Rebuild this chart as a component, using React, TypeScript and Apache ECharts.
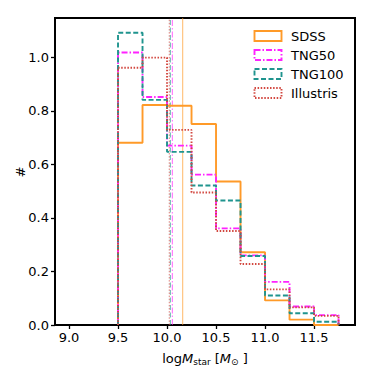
import React, { useEffect, useRef } from "react";
import * as echarts from "echarts";

const binEdges = [9.5, 9.75, 10.0, 10.25, 10.5, 10.75, 11.0, 11.25, 11.5, 11.75];
const sdss = [0.681, 0.822, 0.819, 0.751, 0.536, 0.272, 0.092, 0.02, 0.0];
const tng50 = [1.018, 0.852, 0.67, 0.562, 0.361, 0.26, 0.161, 0.069, 0.037];
const tng100 = [1.092, 0.841, 0.647, 0.521, 0.465, 0.258, 0.11, 0.044, 0.012];
const illustris = [0.961, 0.999, 0.729, 0.495, 0.351, 0.228, 0.133, 0.066, 0.034];
const medians = [10.16, 10.054, 10.034, 10.023];
const names = ["SDSS", "TNG50", "TNG100", "Illustris"];
const xTicks = [9.0, 9.5, 10.0, 10.5, 11.0, 11.5];
const yTicks = [0.0, 0.2, 0.4, 0.6, 0.8, 1.0];

const Y_MAX = 1.147;
const colors = ["#ff9a28", "#ff22ff", "#1f948e", "#d2473f"];
const dashes: (number[] | "solid")[] = ["solid", [6, 2, 1.5, 2], [5, 2.5], [1.5, 1.6]];
const allValues = [sdss, tng50, tng100, illustris];

function stepPoints(vals: number[]) {
  const pts: number[][] = [[binEdges[0], 0]];
  vals.forEach((v, i) => {
    pts.push([binEdges[i], v]);
    pts.push([binEdges[i + 1], v]);
  });
  pts.push([binEdges[binEdges.length - 1], 0]);
  return pts;
}

export default function App() {
  const ref = useRef<HTMLDivElement>(null);
  useEffect(() => {
    if (!ref.current) return;
    const chart = echarts.init(ref.current, null, { renderer: "svg" });
    const font = "DejaVu Sans";
    const series: any[] = allValues.map((vals, i) => ({
      type: "line",
      name: names[i],
      data: stepPoints(vals),
      symbol: "none",
      showSymbol: false,
      silent: true,
      lineStyle: { color: colors[i], width: 1.9, type: dashes[i], cap: "butt" },
      z: 3 + i,
    }));
    medians.forEach((m, i) => {
      series.push({
        type: "line",
        name: names[i] + " median",
        data: [
          [m, 0],
          [m, Y_MAX],
        ],
        symbol: "none",
        showSymbol: false,
        silent: true,
        lineStyle: { color: colors[i], width: 1, type: dashes[i], opacity: 0.7 },
        z: 2,
      });
    });

    const legendTop = 36;
    const legendStep = 19;
    const graphic: any[] = [];
    names.forEach((n, i) => {
      const cy = legendTop + i * legendStep;
      graphic.push({
        type: "rect",
        shape: { x: 254.5, y: cy - 5, width: 27, height: 10 },
        style: {
          fill: "none",
          stroke: colors[i],
          lineWidth: 1.9,
          lineDash: dashes[i] === "solid" ? null : dashes[i],
        },
        z: 10,
      });
      graphic.push({
        type: "text",
        x: 291,
        y: cy,
        style: {
          text: n,
          fontSize: 13,
          fontFamily: font,
          fill: "#000",
          verticalAlign: "middle",
          align: "left",
        },
        z: 10,
      });
    });
    graphic.push({
      type: "text",
      x: 20,
      y: 172,
      rotation: Math.PI / 2,
      style: {
        text: "#",
        fontSize: 13,
        fontFamily: font,
        fill: "#000",
        align: "center",
        verticalAlign: "middle",
      },
    });

    chart.setOption({
      animation: false,
      backgroundColor: "#fff",
      grid: {
        left: 55,
        top: 18,
        width: 300,
        height: 307,
        show: true,
        borderColor: "#000",
        borderWidth: 2,
        backgroundColor: "transparent",
      },
      xAxis: {
        type: "value",
        min: 8.857,
        max: 11.918,
        name: "{n|log}{i|M}{s|star}{n| [}{i|M}{s|⊙}{n| ]}",
        nameLocation: "middle",
        nameGap: 25,
        nameTextStyle: {
          fontFamily: font,
          fontSize: 13,
          color: "#000",
          rich: {
            n: { fontFamily: font, fontSize: 13, color: "#000", lineHeight: 16, verticalAlign: "middle" },
            i: { fontFamily: font, fontSize: 13, color: "#000", fontStyle: "italic", lineHeight: 16, verticalAlign: "middle" },
            s: { fontFamily: font, fontSize: 9, color: "#000", lineHeight: 8, verticalAlign: "bottom" },
          },
        },
        axisLine: { show: true, lineStyle: { color: "#000", width: 2 } },
        axisTick: { show: true, length: 4, lineStyle: { color: "#000", width: 1.3 }, customValues: xTicks },
        axisLabel: {
          customValues: xTicks,
          formatter: (v: number) => v.toFixed(1),
          fontSize: 13,
          fontFamily: font,
          color: "#000",
          margin: 6,
        },
        splitLine: { show: false },
      },
      yAxis: {
        type: "value",
        min: 0,
        max: Y_MAX,
        axisLine: { show: true, lineStyle: { color: "#000", width: 2 } },
        axisTick: { show: true, length: 4, lineStyle: { color: "#000", width: 1.3 }, customValues: yTicks },
        axisLabel: {
          customValues: yTicks,
          formatter: (v: number) => v.toFixed(1),
          fontSize: 13,
          fontFamily: font,
          color: "#000",
          margin: 6,
        },
        splitLine: { show: false },
      },
      series,
      graphic,
    });
    return () => chart.dispose();
  }, []);
  return (
    <div
      ref={ref}
      style={{ position: "absolute", left: 0, top: 0, width: 374, height: 374 }}
    />
  );
}
